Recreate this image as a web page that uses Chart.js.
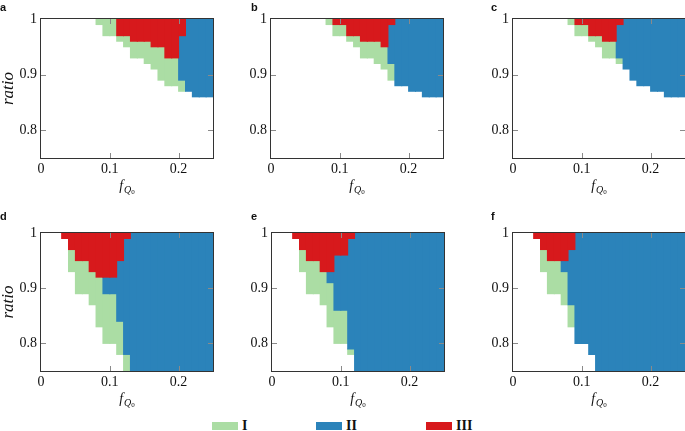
<!DOCTYPE html>
<html lang="en">
<head>
  <meta charset="UTF-8">
  <title>Regions I, II, III in the (f_Q0, ratio) plane</title>
  <script src="https://cdn.jsdelivr.net/npm/chart.js"></script>
  <style>
    html, body { margin: 0; padding: 0; background: #fff; }
    #page { position: relative; width: 685px; height: 431px; overflow: hidden; }
    #page canvas { position: absolute; }
    .sw { position: absolute; top: 422px; width: 26px; height: 8px; }
    .tx { position: absolute; top: 418px; line-height: 16px;
          font: bold 14px "Liberation Serif", "Times New Roman", serif; color: #111; }
  </style>
</head>
<body>
<div id="page">
  <canvas id="pa" width="216" height="200" style="left:0px;top:0px"></canvas>
  <canvas id="pb" width="216" height="200" style="left:230px;top:0px"></canvas>
  <canvas id="pc" width="216" height="200" style="left:472px;top:0px"></canvas>
  <canvas id="pd" width="216" height="205" style="left:0px;top:206px"></canvas>
  <canvas id="pe" width="216" height="205" style="left:231px;top:206px"></canvas>
  <canvas id="pf" width="216" height="205" style="left:472px;top:206px"></canvas>

  <span class="sw" style="left:212px;background:#abdda4"></span><span class="tx" style="left:242px">I</span>
  <span class="sw" style="left:316px;background:#2b83ba"></span><span class="tx" style="left:346px">II</span>
  <span class="sw" style="left:426px;background:#d7191c"></span><span class="tx" style="left:456px">III</span>
</div>

<script>
  // centres of the f_Q0 cells (cells are 0.01 wide)
  const fQ0 = [0.005, 0.015, 0.025, 0.035, 0.045, 0.055, 0.065, 0.075, 0.085, 0.095,
               0.105, 0.115, 0.125, 0.135, 0.145, 0.155, 0.165, 0.175, 0.185, 0.195,
               0.205, 0.215, 0.225, 0.235, 0.245];
  const xTicks = [0, 0.1, 0.2];
  const yTicks = [0.8, 0.9, 1];

  // per column, lower edge of each region:
  // III runs from its edge up to 1, II up to the III edge, I up to the II edge.
  // an edge equal to the one above means the region is absent in that column
  const aIII = [1, 1, 1, 1, 1, 1, 1, 1, 1, 1, 1, 0.97, 0.97, 0.96, 0.96, 0.96, 0.95, 0.95, 0.93, 0.93, 0.97, 1, 1, 1, 1];
  const aII  = [1, 1, 1, 1, 1, 1, 1, 1, 1, 1, 1, 0.97, 0.97, 0.96, 0.96, 0.96, 0.95, 0.95, 0.93, 0.93, 0.89, 0.87, 0.86, 0.86, 0.86];
  const aI   = [1, 1, 1, 1, 1, 1, 1, 1, 0.99, 0.97, 0.97, 0.96, 0.95, 0.93, 0.93, 0.92, 0.91, 0.89, 0.88, 0.88, 0.87, 0.87, 0.86, 0.86, 0.86];

  const bIII = [1, 1, 1, 1, 1, 1, 1, 1, 1, 0.99, 0.99, 0.97, 0.97, 0.96, 0.96, 0.96, 0.95, 0.99, 1, 1, 1, 1, 1, 1, 1];
  const bII  = [1, 1, 1, 1, 1, 1, 1, 1, 1, 0.99, 0.99, 0.97, 0.97, 0.96, 0.96, 0.96, 0.95, 0.92, 0.88, 0.88, 0.87, 0.87, 0.86, 0.86, 0.86];
  const bI   = [1, 1, 1, 1, 1, 1, 1, 1, 0.99, 0.97, 0.97, 0.96, 0.95, 0.93, 0.93, 0.92, 0.91, 0.89, 0.88, 0.88, 0.87, 0.87, 0.86, 0.86, 0.86];

  const cIII = [1, 1, 1, 1, 1, 1, 1, 1, 1, 0.99, 0.99, 0.97, 0.97, 0.96, 0.96, 0.99, 1, 1, 1, 1, 1, 1, 1, 1, 1];
  const cII  = [1, 1, 1, 1, 1, 1, 1, 1, 1, 0.99, 0.99, 0.97, 0.97, 0.96, 0.96, 0.93, 0.91, 0.89, 0.88, 0.88, 0.87, 0.87, 0.86, 0.86, 0.86];
  const cI   = [1, 1, 1, 1, 1, 1, 1, 1, 0.99, 0.97, 0.97, 0.96, 0.95, 0.93, 0.93, 0.92, 0.91, 0.89, 0.88, 0.88, 0.87, 0.87, 0.86, 0.86, 0.86];

  const dIII = [1, 1, 1, 0.99, 0.97, 0.95, 0.95, 0.93, 0.92, 0.92, 0.92, 0.95, 0.99, 1, 1, 1, 1, 1, 1, 1, 1, 1, 1, 1, 1];
  const dII  = [1, 1, 1, 0.99, 0.97, 0.95, 0.95, 0.93, 0.92, 0.89, 0.89, 0.84, 0.78, 0.75, 0.75, 0.75, 0.75, 0.75, 0.75, 0.75, 0.75, 0.75, 0.75, 0.75, 0.75];
  const dI   = [1, 1, 1, 0.99, 0.93, 0.89, 0.89, 0.87, 0.83, 0.80, 0.80, 0.78, 0.75, 0.75, 0.75, 0.75, 0.75, 0.75, 0.75, 0.75, 0.75, 0.75, 0.75, 0.75, 0.75];

  const eIII = [1, 1, 1, 0.99, 0.97, 0.95, 0.95, 0.93, 0.93, 0.96, 0.96, 0.99, 1, 1, 1, 1, 1, 1, 1, 1, 1, 1, 1, 1, 1];
  const eII  = [1, 1, 1, 0.99, 0.97, 0.95, 0.95, 0.93, 0.91, 0.86, 0.86, 0.79, 0.75, 0.75, 0.75, 0.75, 0.75, 0.75, 0.75, 0.75, 0.75, 0.75, 0.75, 0.75, 0.75];
  const eI   = [1, 1, 1, 0.99, 0.93, 0.89, 0.89, 0.87, 0.83, 0.80, 0.80, 0.78, 0.75, 0.75, 0.75, 0.75, 0.75, 0.75, 0.75, 0.75, 0.75, 0.75, 0.75, 0.75, 0.75];

  const fIII = [1, 1, 1, 0.99, 0.97, 0.95, 0.95, 0.95, 0.97, 1, 1, 1, 1, 1, 1, 1, 1, 1, 1, 1, 1, 1, 1, 1, 1];
  const fII  = [1, 1, 1, 0.99, 0.97, 0.95, 0.95, 0.93, 0.87, 0.80, 0.80, 0.78, 0.75, 0.75, 0.75, 0.75, 0.75, 0.75, 0.75, 0.75, 0.75, 0.75, 0.75, 0.75, 0.75];
  const fI   = [1, 1, 1, 0.99, 0.93, 0.89, 0.89, 0.87, 0.83, 0.80, 0.80, 0.78, 0.75, 0.75, 0.75, 0.75, 0.75, 0.75, 0.75, 0.75, 0.75, 0.75, 0.75, 0.75, 0.75];

  const colI = '#abdda4', colII = '#2b83ba', colIII = '#d7191c';
  const serif = '"Liberation Serif", "Times New Roman", serif';

  // layout of the six panels (canvas-relative offsets for the letters)
  const row1 = { padTop: 19, plotH: 139, h: 200, ly: 11 };
  const row2 = { padTop: 27, plotH: 138, h: 205, ly: 14 };
  const panels = [
    { id: 'pa', letter: 'a', I: aI, II: aII, III: aIII, yTitle: true,  row: row1, lx: 0 },
    { id: 'pb', letter: 'b', I: bI, II: bII, III: bIII, yTitle: false, row: row1, lx: 21 },
    { id: 'pc', letter: 'c', I: cI, II: cII, III: cIII, yTitle: false, row: row1, lx: 19 },
    { id: 'pd', letter: 'd', I: dI, II: dII, III: dIII, yTitle: true,  row: row2, lx: 0 },
    { id: 'pe', letter: 'e', I: eI, II: eII, III: eIII, yTitle: false, row: row2, lx: 20 },
    { id: 'pf', letter: 'f', I: fI, II: fII, III: fIII, yTitle: false, row: row2, lx: 19 }
  ];

  // floating bar per column between the lower edge and the edge above it
  function band(lo, hi) {
    return fQ0.map((x, k) => {
      const top = Array.isArray(hi) ? hi[k] : hi;
      return { x: x, y: lo[k] < top ? [lo[k], top] : null };
    });
  }

  // inward tick marks, frame, panel letter and the f_Q0 axis label
  const panelDecor = {
    id: 'panelDecor',
    afterDatasetsDraw(chart) {
      const { ctx, chartArea: a, scales: { x, y } } = chart;
      ctx.save();
      ctx.strokeStyle = '#8a8a8a';
      ctx.lineWidth = 1;
      ctx.beginPath();
      xTicks.forEach(v => {
        if (v <= x.min || v >= x.max) return;
        const px = Math.round(x.getPixelForValue(v)) + 0.5;
        ctx.moveTo(px, a.bottom); ctx.lineTo(px, a.bottom - 5);
        ctx.moveTo(px, a.top); ctx.lineTo(px, a.top + 5);
      });
      yTicks.forEach(v => {
        if (v <= y.min || v >= y.max) return;
        const py = Math.round(y.getPixelForValue(v)) + 0.5;
        ctx.moveTo(a.left, py); ctx.lineTo(a.left + 5, py);
        ctx.moveTo(a.right, py); ctx.lineTo(a.right - 5, py);
      });
      ctx.stroke();
      ctx.strokeStyle = '#333';
      ctx.strokeRect(a.left - 0.5, a.top - 0.5, a.right - a.left + 1, a.bottom - a.top + 1);
      ctx.restore();
    },
    afterDraw(chart, args, opts) {
      const { ctx, chartArea: a } = chart;
      ctx.save();
      ctx.fillStyle = '#111';
      ctx.textAlign = 'left';
      ctx.textBaseline = 'alphabetic';
      ctx.font = 'bold 11px "Liberation Sans", Arial, sans-serif';
      ctx.fillText(opts.letter, opts.lx, opts.ly);

      const f1 = 'italic 14px ' + serif, f2 = 'italic 10px ' + serif, f3 = '7px ' + serif;
      ctx.font = f1; const w1 = ctx.measureText('f').width;
      ctx.font = f2; const w2 = ctx.measureText('Q').width;
      ctx.font = f3; const w3 = ctx.measureText('0').width;
      const base = a.bottom + 32;
      const x0 = (a.left + a.right) / 2 - (w1 + w2 + w3 + 1) / 2;
      ctx.font = f1; ctx.fillText('f', x0, base);
      ctx.font = f2; ctx.fillText('Q', x0 + w1 + 1, base + 2.5);
      ctx.font = f3; ctx.fillText('0', x0 + w1 + 1 + w2, base + 4);
      ctx.restore();
    }
  };

  panels.forEach(p => {
    const ctx = document.getElementById(p.id).getContext('2d');
    new Chart(ctx, {
      type: 'bar',
      data: {
        datasets: [
          { label: 'III', data: band(p.III, 1), backgroundColor: colIII },
          { label: 'II', data: band(p.II, p.III), backgroundColor: colII },
          { label: 'I', data: band(p.I, p.II), backgroundColor: colI }
        ]
      },
      options: {
        responsive: false,
        animation: false,
        events: [],
        layout: { padding: { top: p.row.padTop, right: 3, left: 0, bottom: 0 } },
        datasets: {
          bar: { grouped: false, barPercentage: 1, categoryPercentage: 1, borderWidth: 0, inflateAmount: 0.5 }
        },
        scales: {
          x: {
            type: 'linear', min: 0, max: 0.25, offset: false,
            grid: { display: false, drawTicks: false, offset: false },
            border: { display: false },
            afterBuildTicks: s => { s.ticks = xTicks.map(v => ({ value: v })); },
            afterFit: s => { s.height = p.row.h - p.row.padTop - p.row.plotH; },
            ticks: { padding: 3, color: '#111', autoSkip: false, maxRotation: 0,
                     font: { family: serif, size: 14 }, callback: v => String(v) }
          },
          y: {
            type: 'linear', min: 0.75, max: 1,
            grid: { display: false, drawTicks: false },
            border: { display: false },
            afterBuildTicks: s => { s.ticks = yTicks.map(v => ({ value: v })); },
            afterFit: s => { s.width = 41; },
            title: { display: p.yTitle, text: 'ratio', color: '#111', padding: 0,
                     font: { family: serif, size: 17, style: 'italic', lineHeight: 1 } },
            ticks: { padding: 4, color: '#111', autoSkip: false,
                     font: { family: serif, size: 14 }, callback: v => String(v) }
          }
        },
        plugins: {
          legend: { display: false },
          tooltip: { enabled: false },
          panelDecor: { letter: p.letter, lx: p.lx, ly: p.row.ly }
        }
      },
      plugins: [panelDecor]
    });
  });
</script>
</body>
</html>
